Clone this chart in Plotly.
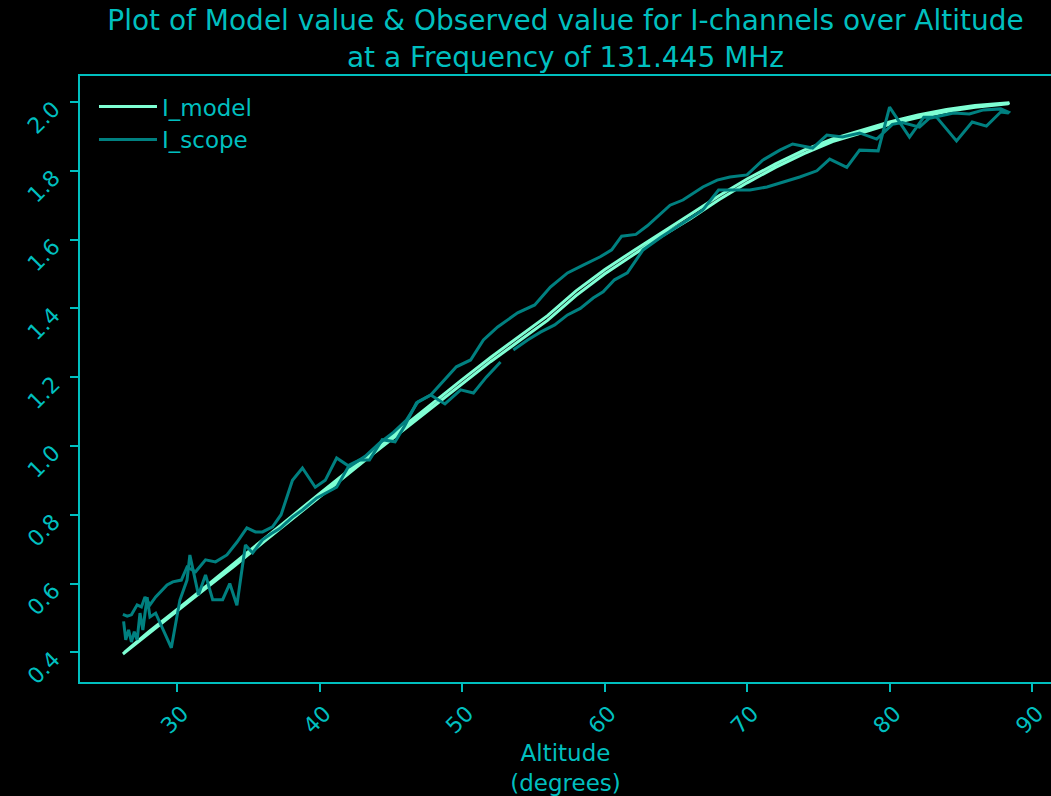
import plotly.graph_objects as go

# ---- data ----
# Model, rising pass
model_alt_up = [26.2, 28, 30, 32, 34, 36, 38, 40, 42, 44, 46, 48, 50, 52, 54, 56, 58,
                60, 62, 64, 66, 68, 70, 72, 74, 76, 78, 80, 82, 84, 86, 88.3]
model_val_up = [0.395, 0.455, 0.52, 0.585, 0.65, 0.718, 0.785, 0.852, 0.918, 0.985,
                1.05, 1.115, 1.18, 1.245, 1.305, 1.365, 1.437, 1.50, 1.555, 1.61, 1.66,
                1.715, 1.765, 1.81, 1.85, 1.885, 1.91, 1.935, 1.955, 1.972, 1.985, 1.995]
# Model, setting pass
model_alt_down = [88.4, 86, 84, 82, 80, 78, 76, 74, 72, 70, 68, 66, 64, 62, 60, 58, 56,
                  54, 52, 50, 48, 46, 44, 42, 40, 38, 36, 34, 32, 30, 28, 26.3]
model_val_down = [1.998, 1.99, 1.978, 1.962, 1.942, 1.918, 1.893, 1.86, 1.82, 1.776,
                  1.727, 1.673, 1.621, 1.567, 1.512, 1.451, 1.379, 1.318, 1.257, 1.193,
                  1.127, 1.061, 0.995, 0.928, 0.861, 0.794, 0.726, 0.658, 0.591, 0.525,
                  0.459, 0.40]

# Observed scope, rising pass (None = missing sample)
scope_alt_up = [26.25, 26.4, 26.6, 26.8, 27.0, 27.2, 27.4, 27.6, 27.9, 28.1, 28.5, 29.0,
                29.6, 30.2, 30.7, 30.9, 31.5, 32.0, 32.5, 33.2, 33.7, 34.2, 34.8, 35.3,
                36.0, 36.6, 37.2, 38.1, 38.8, 39.8, 40.4, 41.2, 42.1, 42.8, 43.5, 44.4,
                45.3, 46.0, 46.8, 47.8, 48.8, 49.9, 50.8, 51.7, 52.7, 53.1, 53.6, 54.6,
                55.5, 56.5, 57.4, 58.3, 59.2, 59.9, 60.7, 61.6, 62.7, 64.0, 65.5, 66.9,
                68.0, 69.0, 70.2, 71.4, 72.5, 73.7, 74.9, 75.8, 77.0, 77.9, 79.2, 80.0,
                81.4, 82.4, 83.3, 84.7, 85.8, 86.8, 87.8, 88.3]
scope_val_up = [0.49, 0.436, 0.465, 0.43, 0.46, 0.436, 0.514, 0.465, 0.56, 0.503, 0.514,
                0.47, 0.413, 0.552, 0.61, 0.683, 0.567, 0.625, 0.553, 0.553, 0.60, 0.537,
                0.712, 0.689, 0.727, 0.745, 0.76, 0.793, 0.814, 0.849, 0.863, 0.88, 0.945,
                0.959, 0.959, 1.018, 1.012, 1.06, 1.125, 1.148, 1.122, 1.163, 1.154, 1.20,
                1.244, None, 1.279, 1.308, 1.331, 1.352, 1.381, 1.40, 1.43, 1.448, 1.483,
                1.503, 1.57, 1.608, 1.648, 1.686, 1.744, 1.744, 1.744, 1.753, 1.767,
                1.782, 1.80, 1.834, 1.81, 1.86, 1.858, 1.985, 1.898, 1.956, 1.956, 1.887,
                1.942, 1.93, 1.971, 1.968]
# Observed scope, setting pass
scope_alt_down = [88.35, 87.8, 86.6, 85.6, 84.5, 82.8, 82.1, 80.9, 80.2, 79.1, 77.9,
                  76.7, 75.6, 74.6, 73.2, 72.3, 71.1, 70.0, 68.8, 67.9, 66.9, 66.2, 65.5,
                  64.6, 63.8, 63.0, 62.2, 61.2, 60.5, 59.7, 58.5, 57.4, 56.2, 55.1, 53.9,
                  52.5, 51.5, 50.6, 49.6, 48.7, 47.8, 46.9, 46.1, 45.2, 44.2, 43.2, 42.1,
                  41.2, 40.4, 39.7, 38.8, 38.1, 37.3, 36.7, 36.0, 35.5, 34.9, 34.2, 33.5,
                  32.7, 32.0, 31.3, 30.7, 30.3, 29.7, 29.3, 28.8, 28.5, 28.1, 27.75, 27.5,
                  27.2, 26.8, 26.5, 26.2]
scope_val_down = [1.97, 1.98, 1.977, 1.965, 1.968, 1.953, 1.927, 1.94, 1.935, 1.892, 1.91,
                  1.898, 1.904, 1.866, 1.878, 1.86, 1.831, 1.788, 1.782, 1.773, 1.753,
                  1.735, 1.715, 1.70, 1.67, 1.64, 1.615, 1.61, 1.57, 1.55, 1.526, 1.503,
                  1.462, 1.41, 1.387, 1.346, 1.308, 1.25, 1.23, 1.19, 1.148, 1.128, 1.075,
                  1.04, 1.008, 0.97, 0.94, 0.965, 0.90, 0.88, 0.936, 0.90, 0.80, 0.765,
                  0.75, 0.75, 0.762, 0.72, 0.683, 0.663, 0.669, 0.634, 0.648, 0.61, 0.605,
                  0.596, 0.573, 0.561, 0.538, 0.561, 0.532, 0.538, 0.509, 0.505, 0.51]

model_alt = model_alt_up + model_alt_down
model_val = model_val_up + model_val_down
scope_alt = scope_alt_up + scope_alt_down
scope_val = scope_val_up + scope_val_down

x_ticks = [30, 40, 50, 60, 70, 80, 90]
y_ticks = [0.4, 0.6, 0.8, 1.0, 1.2, 1.4, 1.6, 1.8, 2.0]

TXT = "#00bfbf"
FONT = "DejaVu Sans"

fig = go.Figure()
fig.add_trace(go.Scatter(x=model_alt, y=model_val, mode="lines", name="I_model",
                         line=dict(color="#7fffd4", width=3)))
fig.add_trace(go.Scatter(x=scope_alt, y=scope_val, mode="lines", name="I_scope",
                         line=dict(color="#008080", width=3), connectgaps=False))

fig.update_layout(
    width=1051, height=796,
    paper_bgcolor="black", plot_bgcolor="black",
    margin=dict(l=80, r=0, t=76, b=114),
    font=dict(family=FONT, color=TXT, size=23),
    title=dict(text="Plot of Model value & Observed value for I-channels over Altitude<br>"
                    "at a Frequency of 131.445 MHz",
               x=0.5, xref="paper", xanchor="center", y=0.962, yanchor="top",
               font=dict(family=FONT, color=TXT, size=28)),
    legend=dict(x=0.0144, y=0.985, xanchor="left", yanchor="top", itemwidth=58,
                bgcolor="rgba(0,0,0,0)", font=dict(family=FONT, color=TXT, size=23),
                tracegroupgap=0),
    showlegend=True,
)
fig.update_xaxes(range=[23.19, 91.33], tickvals=x_ticks, ticktext=[str(v) for v in x_ticks],
                 showgrid=False, zeroline=False, showline=True, mirror=True,
                 linecolor=TXT, linewidth=2, ticks="outside", ticklen=8, tickwidth=1.5,
                 tickcolor=TXT, tickangle=-45, ticklabelshift=5,
                 tickfont=dict(family=FONT, size=22, color=TXT),
                 title=dict(text="Altitude<br>(degrees)", font=dict(family=FONT, size=23, color=TXT),
                            standoff=8))
fig.update_yaxes(range=[0.3137, 2.0756], tickvals=y_ticks,
                 ticktext=[f"{v:.1f}" for v in y_ticks],
                 showgrid=False, zeroline=False, showline=True, mirror=False,
                 linecolor=TXT, linewidth=2, ticks="outside", ticklen=8, tickwidth=1.5,
                 tickcolor=TXT, tickangle=-45, ticklabelstandoff=12, ticklabelshift=4,
                 tickfont=dict(family=FONT, size=22, color=TXT))

fig.write_html("out.html")
